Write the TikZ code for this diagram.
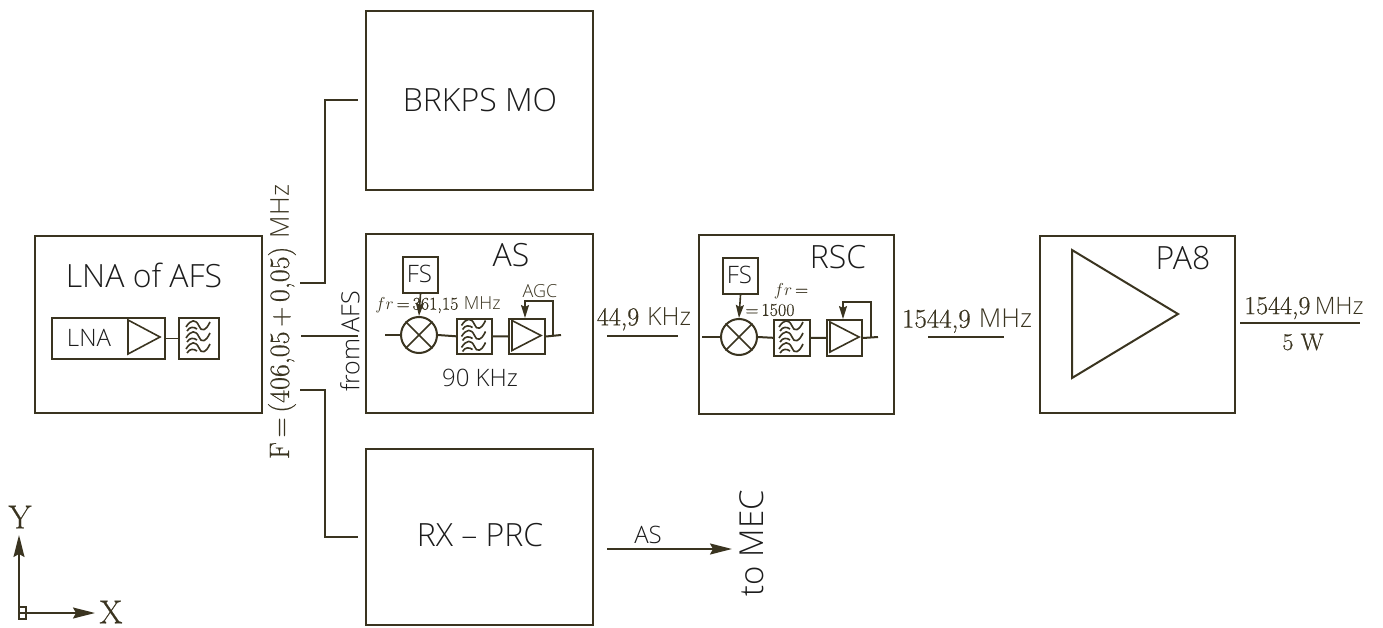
\documentclass[tikz,border=0pt]{standalone}
\usepackage{fontspec}
\usetikzlibrary{arrows.meta,calc}
\setsansfont{Open Sans Light}
\newfontfamily\lmfat{Latin Modern Roman}[FakeBold=0.5]
\definecolor{ink}{HTML}{3A3420}
\definecolor{txt}{HTML}{1C1C1C}
\newcommand{\fsz}[1]{\fontsize{#1}{#1}\selectfont}
\tikzset{
  x=1pt,y=-1pt,
  lw/.style={line width=2pt,draw=ink},
  thin line/.style={line width=1.6pt,draw=ink},
  conn/.style={lw},
  arr/.style={lw,-{Stealth[length=22pt,width=11pt,inset=3pt]}},
  smallarr/.style={thin line,-{Stealth[length=13pt,width=8pt,inset=2pt]}},
  blk/.style={lw,rectangle,inner sep=0pt,anchor=north west},
  lab/.style={font=\sffamily\fsz{32},text=txt,inner sep=0pt},
  slab/.style={font=\sffamily\fsz{24},text=txt,inner sep=0pt},
  rlab/.style={font=\lmfat\fsz{27},text=ink,inner sep=0pt},
  tlab/.style={font=\lmfat\fsz{18},text=ink,inner sep=0pt},
  pics/filt/.style={code={
    \foreach \d in {-11,0,11}{
      \draw[thin line] (-12,\d+1) .. controls (-7,\d-7) and (-2,\d-7) .. (1,\d) .. controls (3,\d+6) and (8,\d+5) .. (12,\d-4);
      \draw[thin line] (-11,\d+5) .. controls (-8,\d) and (-4,\d+1) .. (-1,\d+3);
    }
  }},
  pics/amp/.style={code={
    \draw[thin line] (-14,-15) -- (15,0) -- (-14,15) -- cycle;
  }}
}
\begin{document}
\begin{tikzpicture}
\useasboundingbox (0,0) rectangle (1383,628);
% Main blocks
\node[blk,minimum width=227pt,minimum height=177pt] (lnaafs) at (34,235) {};
\node[blk,minimum width=227pt,minimum height=179pt] (brkps) at (365,10) {};
\node[blk,minimum width=227pt,minimum height=179pt] (as) at (365,233) {};
\node[blk,minimum width=227pt,minimum height=176pt] (rx) at (365,448) {};
\node[blk,minimum width=195pt,minimum height=179pt] (rsc) at (698,234) {};
\node[blk,minimum width=195pt,minimum height=177pt] (pa) at (1039,235) {};
\node[lab] (t1) at (144,275) {LNA of AFS};
\node[lab] (t2) at (480,100) {BRKPS MO};
\node[lab] (t3) at (480,535) {RX -- PRC};
\node[lab] (t4) at (511,255) {AS};
\node[lab] (t5) at (838,257) {RSC};
\node[lab] (t6) at (1183,258) {PA8};
% LNA inner
\node[blk,thin line,minimum width=113pt,minimum height=41pt] (lna) at (51,317) {};
\node[blk,thin line,minimum width=40pt,minimum height=41pt] (lnaf) at (178,317) {};
\node[slab] (t7) at (89,338) {LNA};
\draw[thin line] (128,320) -- (160,337) -- (128,354) -- cycle;
\draw[thin line] (lna.east) -- (lnaf.west);
\pic at (198,337) {filt};
% Branches
\coordinate (bt) at (300,283);
\coordinate (bm) at (301,336);
\coordinate (bb) at (300,390);
\draw[conn] (bt) -| (325,100) -- (358,100);
\draw[conn] (bm) -- (358,336);
\draw[conn] (bb) -| (325,537) -- (358,537);
\node[rlab,rotate=90,font=\lmfat\fsz{28}] (f) at (282,322) {F\,=\,(406,05\,+\,0,05) {\sffamily\fsz{26}MHz}};
\node[rotate=90,font=\sffamily\fsz{25},text=txt,inner sep=0pt] (from) at (350,341.5) {from\hspace{6pt}AFS};
% AS inner
\coordinate (a1) at (385,335);
\coordinate (a2) at (561,335);
\node[lw,circle,inner sep=0pt,minimum size=36pt,fill=white] (amix) at (419,335) {};
\node[blk,thin line,minimum width=35pt,minimum height=35pt,fill=white] (afil) at (456,318) {};
\node[blk,lw,minimum width=36pt,minimum height=35pt,fill=white] (aamp) at (508,318) {};
\node[blk,lw,minimum width=35pt,minimum height=36pt] (afs) at (402,256) {};
\node[slab] (t8) at (419.5,274) {FS};
\draw[lw] (a1) -- (amix.west);
\draw[lw] (amix.east) -- (afil.west);
\draw[lw] (afil.east) -- (aamp.west);
\draw[lw] (aamp.east) -- (a2);
\draw[thin line] (amix.north west) -- (amix.south east);
\draw[thin line] (amix.north east) -- (amix.south west);
\pic at (473.5,335.5) {filt};
\pic at (526,335.5) {amp};
\draw[smallarr] (afs.south) -- (amix.north);
\coordinate (afb) at (553,335);
\draw[smallarr] (afb) -- (553,301) -- (525,301) -- (525,318);
\node[font=\sffamily\fsz{18},text=ink,inner sep=0pt] (t9) at (540,291) {AGC};
\node[tlab] (t10) at (438,305) {$fr$\,=\,361,15 {\sffamily\fsz{18}MHz}};
\node[slab] (t11) at (480,378) {90 KHz};
% RSC inner
\coordinate (r1) at (702,337);
\coordinate (r2) at (878,337);
\node[lw,circle,inner sep=0pt,minimum size=36pt,fill=white] (rmix) at (739,337) {};
\node[blk,thin line,minimum width=36pt,minimum height=36pt,fill=white] (rfil) at (773,319) {};
\node[blk,lw,minimum width=35pt,minimum height=36pt,fill=white] (ramp) at (826,319) {};
\node[blk,lw,minimum width=35pt,minimum height=36pt] (rfs) at (722,257) {};
\node[slab] (t12) at (739.5,275) {FS};
\draw[lw] (r1) -- (rmix.west);
\draw[lw] (rmix.east) -- (rfil.west);
\draw[lw] (rfil.east) -- (ramp.west);
\draw[lw] (ramp.east) -- (r2);
\draw[thin line] (rmix.north west) -- (rmix.south east);
\draw[thin line] (rmix.north east) -- (rmix.south west);
\pic at (791,337) {filt};
\pic at (844,337) {amp};
\draw[smallarr] (rfs.south) -- (rmix.north);
\coordinate (rfb) at (871,337);
\draw[smallarr] (rfb) -- (871,302) -- (843,302) -- (843,319);
\node[tlab] (t13) at (791,291) {$fr$\,=};
\node[tlab] (t14) at (770,310) {=\,1500};
% Interstage
\coordinate (l1a) at (607,336); \coordinate (l1b) at (678,336);
\draw[lw] (l1a) -- (l1b);
\node[rlab,font=\lmfat\fsz{26}] (t15) at (644,319) {44,9 {\sffamily\fsz{25}KHz}};
\coordinate (l2a) at (928,337); \coordinate (l2b) at (1004,337);
\draw[lw] (l2a) -- (l2b);
\node[rlab] (t16) at (967,321) {1544,9 {\sffamily\fsz{26}MHz}};
% PA
\draw[lw] (1072,250) -- (1178,314) -- (1072,378) -- cycle;
\coordinate (l3a) at (1240,323); \coordinate (l3b) at (1360,323);
\draw[lw] (l3a) -- (l3b);
\node[rlab,font=\lmfat\fsz{26}] (t17) at (1304,308) {1544,9\,{\sffamily\fsz{24}MHz}};
\node[rlab,font=\lmfat\fsz{24}] (t18) at (1303,342) {5 W};
% RX out
\coordinate (o1) at (607,549); \coordinate (o2) at (732,549);
\draw[arr] (o1) -- (o2);
\node[slab] (t19) at (648,535) {AS};
\node[lab,rotate=90,font=\sffamily\fsz{33}] (t20) at (752,543) {to MEC};
% Axes
\coordinate (ax0) at (19,613);
\coordinate (axy) at (19,535);
\coordinate (axx) at (95,613);
\draw[arr,line width=1.6pt] (ax0) -- (axy);
\draw[arr,line width=1.6pt] (ax0) -- (axx);
\draw[thin line] (19,607) -| (26,619) -| (19,613);
\node[font=\lmfat\fsz{33},text=ink,inner sep=0pt] (ty) at (20,517) {Y};
\node[font=\lmfat\fsz{33},text=ink,inner sep=0pt] (tx) at (111,612) {X};
\end{tikzpicture}
\end{document}
